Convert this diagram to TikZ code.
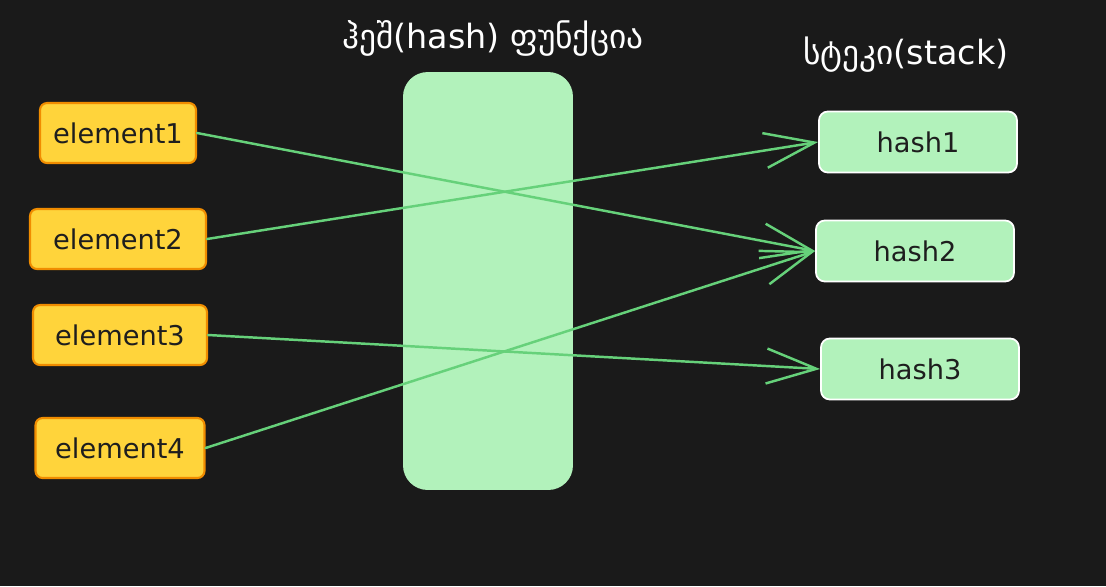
\documentclass[tikz,border=0pt]{standalone}
\usepackage{fontspec}
\setmainfont{DejaVu Sans}
\usetikzlibrary{arrows.meta}
\definecolor{bgdark}{HTML}{1A1A1A}
\definecolor{elemfill}{HTML}{FFD43B}
\definecolor{elemdraw}{HTML}{F08C00}
\definecolor{hashfill}{HTML}{B2F2BB}
\definecolor{arrowgreen}{HTML}{66D17A}
\definecolor{inkdark}{HTML}{1E1E1E}
\begin{document}
\begin{tikzpicture}[x=0.02cm, y=-0.02cm, line cap=round, line join=round,
  elem/.style={draw=elemdraw, fill=elemfill, line width=1.2pt, rounded corners=4pt,
    minimum height=1.2cm, text=inkdark, font=\fontsize{15.5}{18}\selectfont},
  hashbox/.style={draw=white, fill=hashfill, line width=1pt, rounded corners=5pt,
    minimum height=1.22cm, minimum width=3.96cm, text=inkdark, font=\fontsize{15.5}{18}\selectfont},
  title/.style={text=white, font=\fontsize{19}{22}\selectfont},
  link/.style={draw=arrowgreen, line width=1.4pt,
    -{Straight Barb[length=10mm, width=7mm, line width=1.4pt]}}]

  \fill[bgdark] (0,0) rectangle (1106,586);
  \useasboundingbox (0,0) rectangle (1106,586);

  % hash function block
  \node[fill=hashfill, rounded corners=14pt, minimum width=3.4cm, minimum height=8.36cm,
    inner sep=0pt] (hashfn) at (488,281) {};
  \node[title] (fntitle) at (493,38) {ჰეშ(hash) ფუნქცია};
  \node[title] (stacktitle) at (906,55) {სტეკი(stack)};

  % input elements
  \node[elem, minimum width=3.12cm] (el1) at (118,133) {element1};
  \node[elem, minimum width=3.52cm] (el2) at (118,239) {element2};
  \node[elem, minimum width=3.48cm] (el3) at (120,335) {element3};
  \node[elem, minimum width=3.38cm] (el4) at (120,448) {element4};

  % stack of hashes
  \node[hashbox] (h1) at (918,142) {hash1};
  \node[hashbox] (h2) at (915,251) {hash2};
  \node[hashbox] (h3) at (920,369) {hash3};

  \draw[link] (el1.east) -- (h2.west);
  \draw[link] (el2.east) -- (h1.west);
  \draw[link] (el3.east) -- (h3.west);
  \draw[link] (el4.east) -- (h2.west);

\end{tikzpicture}
\end{document}
